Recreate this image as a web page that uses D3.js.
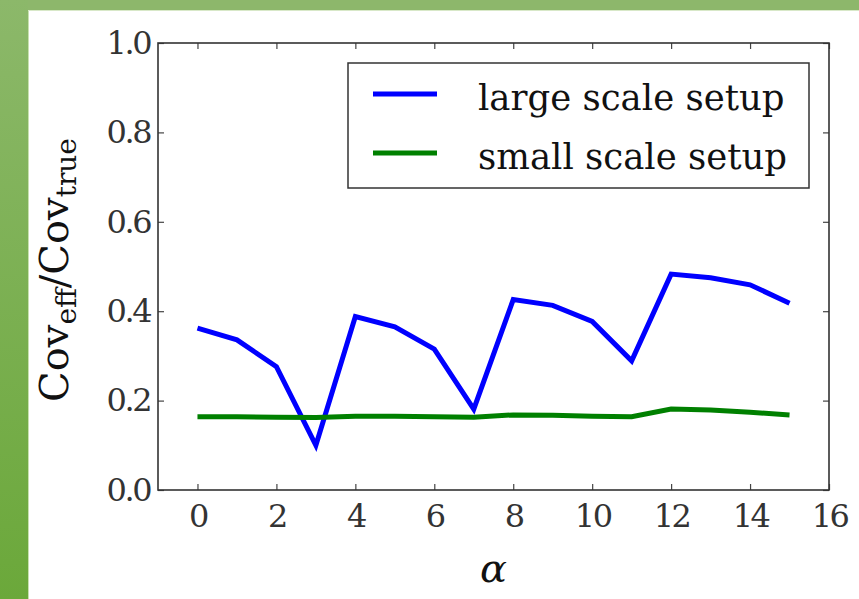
<!DOCTYPE html>
<html>
<head>
<meta charset="utf-8">
<script src="https://cdn.jsdelivr.net/npm/d3@7"></script>
<style>
  html, body { margin: 0; padding: 0; background: #fff; }
  svg { display: block; }
  svg text { font-family: "DejaVu Serif", "Liberation Serif", serif; }
</style>
</head>
<body>
<script>
// alpha index and effective/true covariance ratio for both setups
const alphaValues = [0, 1, 2, 3, 4, 5, 6, 7, 8, 9, 10, 11, 12, 13, 14, 15];
const largeScale = [0.362, 0.336, 0.276, 0.100, 0.388, 0.365, 0.315, 0.181,
                    0.426, 0.413, 0.377, 0.289, 0.483, 0.475, 0.459, 0.418];
const smallScale = [0.164, 0.164, 0.163, 0.162, 0.165, 0.165, 0.164, 0.163,
                    0.168, 0.167, 0.165, 0.164, 0.181, 0.179, 0.174, 0.168];
const seriesNames = ["large scale setup", "small scale setup"];
const seriesColors = ["#0000ff", "#008000"];
const xTicks = [0, 2, 4, 6, 8, 10, 12, 14, 16];
const yTicks = [0.0, 0.2, 0.4, 0.6, 0.8, 1.0];

const W = 859, H = 599;

const svg = d3.select("body").append("svg")
  .attr("width", W).attr("height", H);

// slide-style green frame
const defs = svg.append("defs");
const grad = defs.append("linearGradient")
  .attr("id", "sideGrad").attr("x1", 0).attr("y1", 0).attr("x2", 0).attr("y2", 1);
grad.append("stop").attr("offset", "0%").attr("stop-color", "#8cb86a");
grad.append("stop").attr("offset", "100%").attr("stop-color", "#6ba83a");

svg.append("rect").attr("x", 0).attr("y", 0).attr("width", W).attr("height", H).attr("fill", "#fff");
svg.append("rect").attr("x", 0).attr("y", 0).attr("width", W).attr("height", 10).attr("fill", "#8db76b");
svg.append("rect").attr("x", 0).attr("y", 0).attr("width", 28).attr("height", H).attr("fill", "url(#sideGrad)");
svg.append("line").attr("x1", 28.5).attr("x2", 28.5).attr("y1", 10).attr("y2", H)
  .attr("stroke", "#c8e0b0").attr("stroke-width", 1);
svg.append("line").attr("x1", 28).attr("x2", W).attr("y1", 10.5).attr("y2", 10.5)
  .attr("stroke", "#d8e8c8").attr("stroke-width", 1);

const plot = { left: 158, right: 829, top: 43, bottom: 490 };

const x = d3.scaleLinear().domain([-1, 16]).range([plot.left, plot.right]);
const y = d3.scaleLinear().domain([0, 1]).range([plot.bottom, plot.top]);

// data lines
const line = d3.line().x((d, i) => x(alphaValues[i])).y(d => y(d));
[largeScale, smallScale].forEach((vals, k) => {
  svg.append("path")
    .datum(vals)
    .attr("d", line)
    .attr("fill", "none")
    .attr("stroke", seriesColors[k])
    .attr("stroke-width", 5)
    .attr("stroke-linejoin", "miter")
    .attr("stroke-linecap", "butt");
});

// axes with inward ticks on all four sides
const tickLen = 6;
const fmt1 = d3.format(".1f");

const gBottom = svg.append("g").attr("transform", `translate(0,${plot.bottom})`)
  .call(d3.axisBottom(x).tickValues(xTicks).tickSize(-tickLen).tickPadding(14).tickFormat(d3.format("d")));
const gTop = svg.append("g").attr("transform", `translate(0,${plot.top})`)
  .call(d3.axisTop(x).tickValues(xTicks).tickSize(-tickLen).tickFormat(""));
const gLeft = svg.append("g").attr("transform", `translate(${plot.left},0)`)
  .call(d3.axisLeft(y).tickValues(yTicks).tickSize(-tickLen).tickPadding(8).tickFormat(fmt1));
const gRight = svg.append("g").attr("transform", `translate(${plot.right},0)`)
  .call(d3.axisRight(y).tickValues(yTicks).tickSize(-tickLen).tickFormat(""));

[gBottom, gTop, gLeft, gRight].forEach(g => {
  g.attr("font-family", null);
  g.select(".domain").remove();
  g.selectAll(".tick line").attr("stroke", "#444").attr("stroke-width", 1.2);
  g.selectAll(".tick text")
    .attr("font-size", 32)
    .attr("letter-spacing", -2.5)
    .attr("fill", "#333");
});

// plot frame
svg.append("rect")
  .attr("x", plot.left).attr("y", plot.top)
  .attr("width", plot.right - plot.left).attr("height", plot.bottom - plot.top)
  .attr("fill", "none").attr("stroke", "#333").attr("stroke-width", 1.6);

// legend
const legend = svg.append("g");
legend.append("rect")
  .attr("x", 348).attr("y", 63).attr("width", 461).attr("height", 125)
  .attr("fill", "#fff").attr("stroke", "#333").attr("stroke-width", 1.5);
seriesNames.forEach((name, k) => {
  const cy = 94 + k * 59;
  legend.append("line")
    .attr("x1", 373).attr("x2", 437).attr("y1", cy).attr("y2", cy)
    .attr("stroke", seriesColors[k]).attr("stroke-width", 5);
  legend.append("text")
    .attr("x", 478).attr("y", cy + 16)
    .attr("font-size", 35.5)
    .attr("fill", "#111")
    .text(name);
});

// axis titles
svg.append("text")
  .attr("x", (plot.left + plot.right) / 2).attr("y", 582)
  .attr("text-anchor", "middle")
  .attr("font-style", "italic").attr("font-size", 40)
  .attr("fill", "#111")
  .text("α");

const yTitle = svg.append("text")
  .attr("transform", "translate(68,270) rotate(-90)")
  .attr("text-anchor", "middle")
  .attr("font-size", 40)
  .attr("fill", "#111");
yTitle.append("tspan").text("Cov");
yTitle.append("tspan").attr("font-size", 28).attr("dy", 8).text("eff");
yTitle.append("tspan").attr("dy", -8).text("/Cov");
yTitle.append("tspan").attr("font-size", 28).attr("dy", 8).text("true");
</script>
</body>
</html>
